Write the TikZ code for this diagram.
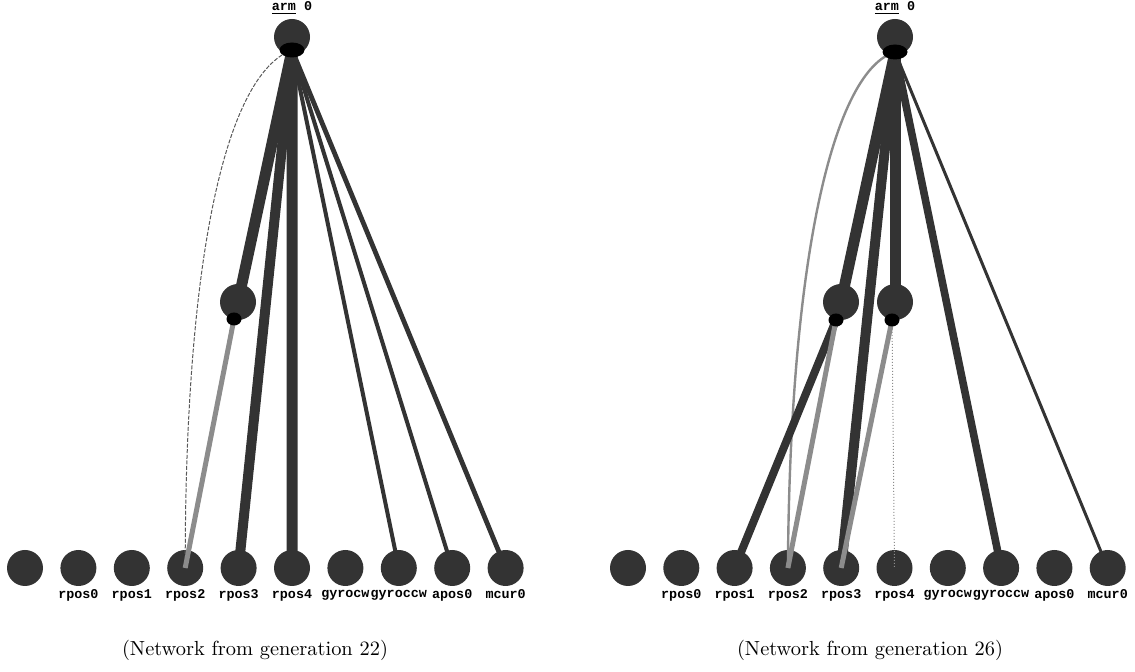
\documentclass[tikz,border=0pt]{standalone}
\usepackage{fontspec}
\newfontfamily\lblfont{Liberation Mono}
\usetikzlibrary{shapes.geometric,positioning}
\definecolor{nodegray}{gray}{0.2}
\definecolor{wiregray}{gray}{0.55}
\begin{document}
\begin{tikzpicture}[x=0.5pt,y=-0.5pt,
  unit/.style={circle,fill=nodegray,minimum size=18pt,inner sep=0pt},
  port/.style={ellipse,fill=black,minimum width=12.5pt,minimum height=7.5pt,inner sep=0pt},
  hport/.style={ellipse,fill=black,minimum width=7.5pt,minimum height=6.5pt,inner sep=0pt},
  lbl/.style={font=\lblfont\bfseries\fontsize{6.7}{8}\selectfont,inner sep=0pt},
  wire/.style={draw=nodegray},
  softwire/.style={draw=wiregray},
  captext/.style={font=\fontsize{10.2}{12}\selectfont,inner sep=0pt}]
\useasboundingbox (0,0) rectangle (1135,672);
% input rows
\foreach \t [count=\n] in {{},rpos0,rpos1,rpos2,rpos3,rpos4,gyrocw,gyroccw,apos0,mcur0}{
  \node[unit] (l\n) at ({25+53.4*(\n-1)},568) {};
  \node[unit] (r\n) at ({628+53.3*(\n-1)},568) {};
  \node[lbl,below=1.5pt of l\n] (ll\n) {\t};
  \node[lbl,below=1.5pt of r\n] (rl\n) {\t};
}
% outputs and hidden units
\node[unit] (armL) at (292,37) {};
\node[unit] (armR) at (895,37) {};
\node[lbl,above=2pt of armL] (armLt) {\underline{arm} 0};
\node[lbl,above=2pt of armR] (armRt) {\underline{arm} 0};
\node[unit] (hL) at (238,302) {};
\node[unit] (hR1) at (841,302) {};
\node[unit] (hR2) at (895,302) {};
\coordinate (pL) at (292,50); \coordinate (pR) at (895,52);
\coordinate (qL) at (234,319); \coordinate (qR1) at (836,320); \coordinate (qR2) at (892,320);
% generation 22
\draw[wire,line width=5.5pt] (pL)--(hL.center);
\draw[wire,line width=5pt] (pL)--(l5.center);
\draw[wire,line width=5.5pt] (pL)--(l6.center);
\draw[wire,line width=2pt] (pL)--(l8.center);
\draw[wire,line width=2pt] (pL)--(l9.center);
\draw[wire,line width=2.4pt] (pL)--(l10.center);
\draw[draw=gray!70!black,line width=0.5pt,dash pattern=on 2pt off 0.8pt] (pL) .. controls (225,75) and (185,260) .. (l4.center);
\draw[softwire,line width=2.5pt] (qL)--(l4.center);
% generation 26
\draw[wire,line width=5.5pt] (pR)--(hR1.center);
\draw[wire,line width=5.5pt] (pR)--(hR2.center);
\draw[wire,line width=5pt] (pR)--(r5.center);
\draw[wire,line width=3.8pt] (pR)--(r8.center);
\draw[wire,line width=1.5pt] (pR)--(r10.center);
\draw[softwire,line width=1.2pt] (pR) .. controls (835,70) and (790,250) .. (r4.center);
\draw[wire,line width=4pt] (qR1)--(r3.center);
\draw[softwire,line width=2.5pt] (qR1)--(r4.center);
\draw[softwire,line width=2.5pt] (qR2)--(r5.center);
\draw[softwire,line width=0.5pt,densely dotted] (qR2)--(r6.center);
\node[port] (pLn) at (pL) {}; \node[port] (pRn) at (pR) {};
\node[hport] (qLn) at (qL) {}; \node[hport] (qR1n) at (qR1) {}; \node[hport] (qR2n) at (qR2) {};
\node[captext] (capL) at (255,650) {(Network from generation 22)};
\node[captext] (capR) at (870,650) {(Network from generation 26)};
\end{tikzpicture}
\end{document}
